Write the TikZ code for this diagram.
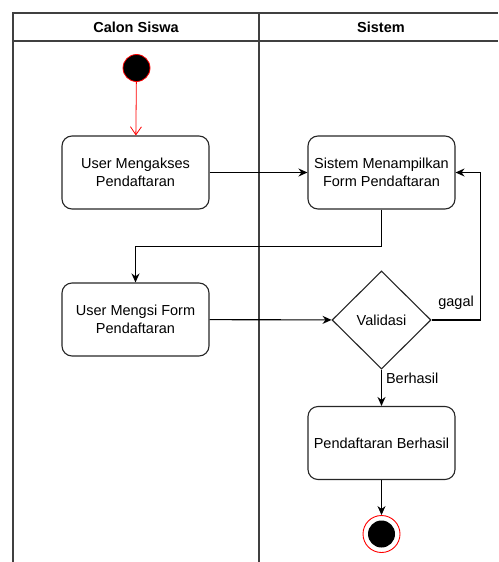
\documentclass[tikz,border=0pt]{standalone}
\usepackage{fontspec}
\setmainfont{Liberation Sans}
\usetikzlibrary{arrows.meta, positioning, shapes.geometric}

\begin{document}
\begin{tikzpicture}[
    x=1pt, y=-1pt, >={Stealth[length=9pt, width=8pt]},
    lane/.style={draw=black!75, line width=1.1pt},
    activity/.style={draw=black!85, rounded corners=10pt, line width=1.1pt,
                     minimum width=147pt, minimum height=73pt, align=center,
                     font=\fontsize{14.5}{17.5}\selectfont, inner sep=2pt},
    decision/.style={draw=black!85, diamond, aspect=1, line width=1.1pt,
                     minimum width=99pt, minimum height=98pt, inner sep=0pt,
                     font=\fontsize{14.5}{17.5}\selectfont},
    startstate/.style={circle, draw=red, fill=black, line width=0.8pt,
                       minimum size=27pt, inner sep=0pt},
    endstate/.style={circle, draw=red, fill=white, line width=0.9pt,
                     minimum size=37pt, inner sep=0pt,
                     path picture={\fill[black] (path picture bounding box.center) circle (13.5pt);}},
    flow/.style={->, line width=1.1pt},
    lbl/.style={font=\fontsize{14.5}{17.5}\selectfont, inner sep=0pt}
  ]
  \useasboundingbox (0,0) rectangle (498,562);

  % Swimlanes
  \draw[lane] (13,562) -- (13,13) -- (498,13);
  \draw[lane] (13,41) -- (498,41);
  \draw[lane] (259,13) -- (259,562);
  \node[lbl, font=\fontsize{14.5}{17.5}\selectfont\bfseries] (hsiswa) at (136,27) {Calon Siswa};
  \node[lbl, font=\fontsize{14.5}{17.5}\selectfont\bfseries] (hsistem) at (381,27) {Sistem};

  % Calon Siswa
  \node[startstate] (start) at (136.5,68) {};
  \node[activity] (mengakses) at (135.5,172.5) {User Mengakses\\Pendaftaran};
  \node[activity] (isi) at (135.5,319.5) {User Mengsi Form\\Pendaftaran};

  % Sistem
  \node[activity] (tampil) at (381.5,172.5) {Sistem Menampilkan\\Form Pendaftaran};
  \node[decision] (validasi) at (381.5,320) {Validasi};
  \node[activity] (berhasil) at (381.5,443) {Pendaftaran Berhasil};
  \node[endstate] (finish) at (381.5,534) {};

  % Connections
  \draw[-{Straight Barb[length=8pt, width=11pt]}, red, line width=0.8pt] (start) -- (mengakses);
  \draw[flow] (mengakses) -- (tampil);
  \draw[flow] (tampil.south) -- ++(0,37) -| (isi.north);
  \draw[flow] (isi) -- (validasi);
  \draw[flow] (validasi.east) -- node[lbl, above=10pt] {gagal} ++(49,0) |- (tampil.east);
  \draw[flow] (validasi.south) -- node[lbl, right=4pt, pos=0.25] {Berhasil} (berhasil.north);
  \draw[flow] (berhasil) -- (finish);
\end{tikzpicture}
\end{document}
